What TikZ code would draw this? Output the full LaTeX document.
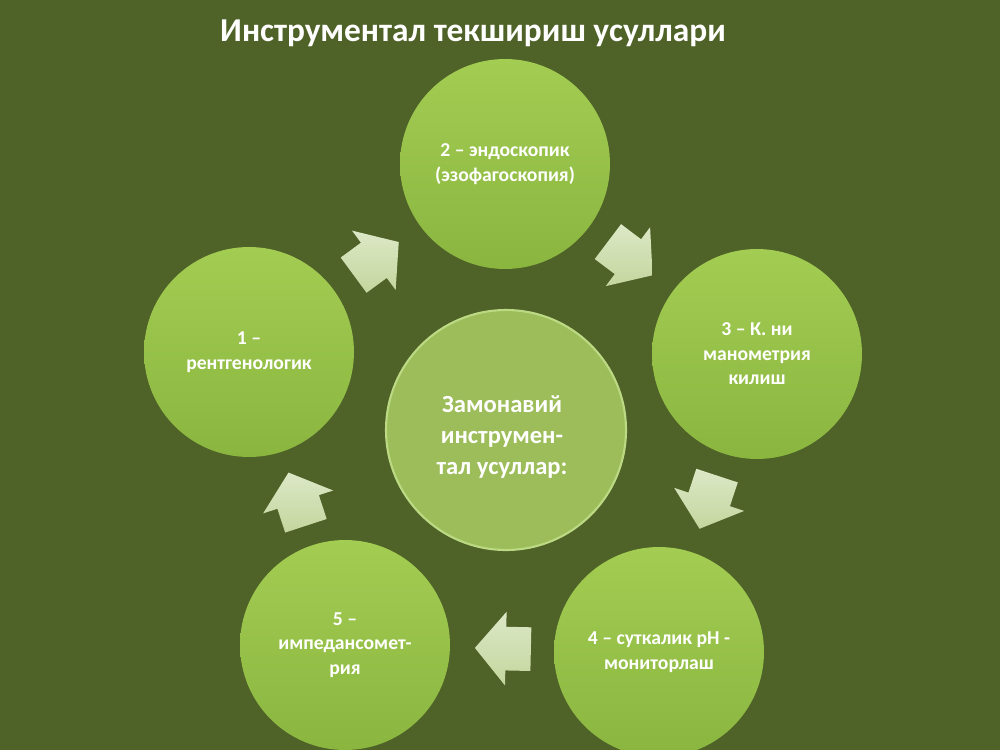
\documentclass[tikz,border=0pt]{standalone}
\usepackage{fontspec}
\setmainfont{Carlito}
\usetikzlibrary{shapes.arrows,calc}
\definecolor{bg}{RGB}{79,98,40}
\definecolor{ctop}{RGB}{163,204,82}
\definecolor{cbot}{RGB}{138,182,64}
\definecolor{hubfill}{RGB}{156,189,90}
\definecolor{hubrim}{RGB}{188,218,132}
\definecolor{atop}{RGB}{220,232,198}
\definecolor{abot}{RGB}{196,214,158}
\begin{document}
\begin{tikzpicture}[x=0.02cm,y=-0.02cm,
  circ/.style={circle, minimum size=4.2cm, inner sep=0pt, top color=ctop, bottom color=cbot, text=white, font=\bfseries\fontsize{11.2}{14}\selectfont, align=center},
  hub/.style={circle, minimum size=4.8cm, inner sep=0pt, fill=hubfill, draw=hubrim, line width=1.2pt},
  hubtext/.style={text=white, font=\bfseries\fontsize{14}{17.8}\selectfont, align=center},
  cyc/.style={single arrow, draw=none, top color=atop, bottom color=abot, minimum height=1.12cm, minimum width=1.45cm, inner xsep=0pt, inner ysep=0.43cm, single arrow head extend=0.3cm, single arrow tip angle=100},
  ttl/.style={text=white, font=\bfseries\fontsize{19}{23}\selectfont}
]
\useasboundingbox (0,0) rectangle (1000,750);
\fill[bg] (0,0) rectangle (1000,750);
\clip (0,0) rectangle (1000,750);

\node[ttl] (title) at (473,33) {Инструментал текшириш усуллари};

\node[hub] (hub) at (506,430) {};
\node[hubtext] (hubtxt) at (502,437) {Замонавий\\инструмен-\\тал усуллар:};

\node[circ] (c1) at (249,352) {1 –\\рентгенологик};
\node[circ] (c2) at (505,164) {2 – эндоскопик\\(эзофагоскопия)};
\node[circ] (c3) at (757,354) {3 – К. ни\\манометрия\\килиш};
\node[circ] (c4) at (659,652) {4 – суткалик pH -\\мониторлаш};
\node[circ] (c5) at (345,645) {5 –\\импедансомет-\\рия};

\path (c1.center) -- (c2.center) node[cyc, pos=0.468, sloped, allow upside down] (a12) {};
\path (c2.center) -- (c3.center) node[cyc, pos=0.468, sloped, allow upside down] (a23) {};
\path (c3.center) -- (c4.center) node[cyc, pos=0.468, sloped, allow upside down] (a34) {};
\path (c4.center) -- (c5.center) node[cyc, pos=0.468, sloped, allow upside down] (a45) {};
\path (c5.center) -- (c1.center) node[cyc, pos=0.468, sloped, allow upside down] (a51) {};
\end{tikzpicture}
\end{document}
